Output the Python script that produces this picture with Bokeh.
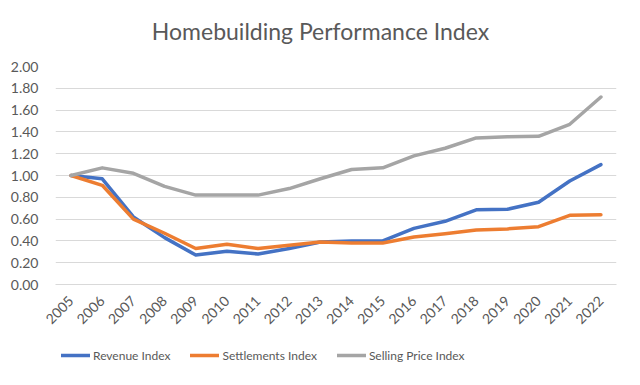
import math
from bokeh.plotting import figure
from bokeh.layouts import column
from bokeh.models import Legend, LegendItem, FixedTicker, Range1d, NumeralTickFormatter, ColumnDataSource
from bokeh.core.properties import value
from bokeh.embed import file_html
from bokeh.resources import INLINE

years = list(range(2005, 2023))
year_labels = [str(y) for y in years]
revenue = [1.00, 0.97, 0.62, 0.43, 0.27, 0.305, 0.28, 0.33, 0.39, 0.40, 0.40, 0.515, 0.58, 0.685, 0.69, 0.755, 0.95, 1.10]
settlements = [1.00, 0.91, 0.60, 0.47, 0.33, 0.37, 0.33, 0.36, 0.39, 0.38, 0.38, 0.435, 0.465, 0.50, 0.51, 0.53, 0.635, 0.64]
selling_price = [1.00, 1.07, 1.02, 0.90, 0.82, 0.82, 0.82, 0.88, 0.97, 1.055, 1.07, 1.18, 1.25, 1.345, 1.355, 1.36, 1.47, 1.72]
y_ticks = [0.0, 0.2, 0.4, 0.6, 0.8, 1.0, 1.2, 1.4, 1.6, 1.8, 2.0]

title_text = "Homebuilding Performance Index"
series_names = ["Revenue Index", "Settlements Index", "Selling Price Index"]
colors = ["#4472C4", "#ED7D31", "#A5A5A5"]

FONT = "Lato"
TXT = "#595959"
W = 624
LEFT, RIGHT = 55, 8

# title strip (frame is aligned with the chart's frame: 55..616 px)
tt = figure(width=W, height=46, output_backend="svg", toolbar_location=None,
            x_range=Range1d(LEFT, W - RIGHT), y_range=Range1d(0, 46),
            x_axis_type=None, y_axis_type=None, min_border=0)
tt.title.visible = False
tt.outline_line_color = None
tt.grid.grid_line_color = None
tt.text(x=[320], y=[16], text=[title_text], text_align="center", text_baseline="middle",
        text_font=value(FONT), text_font_size="23px", text_color=TXT)

# main chart
p = figure(width=W, height=290, output_backend="svg", toolbar_location=None,
           x_range=Range1d(2004.5, 2022.5), y_range=Range1d(0, 2.0),
           min_border_left=LEFT, min_border_right=RIGHT, min_border_top=20, min_border_bottom=52)
p.outline_line_color = None
p.background_fill_color = "white"
p.border_fill_color = "white"

p.xgrid.grid_line_color = None
p.ygrid.grid_line_color = "#d9d9d9"
p.ygrid.grid_line_width = 1

p.xaxis.ticker = FixedTicker(ticks=years)
p.xaxis.major_label_overrides = {y: l for y, l in zip(years, year_labels)}
p.xaxis.major_label_orientation = math.pi / 4
p.yaxis.ticker = FixedTicker(ticks=y_ticks)
p.yaxis.formatter = NumeralTickFormatter(format="0.00")

for ax in (p.xaxis, p.yaxis):
    ax.major_tick_line_color = None
    ax.minor_tick_line_color = None
    ax.major_label_text_font = FONT
    ax.major_label_text_font_size = "14px"
    ax.major_label_text_color = TXT
p.xaxis.axis_line_color = "#d9d9d9"
p.yaxis.axis_line_color = None
p.yaxis.major_label_standoff = 11
p.xaxis.major_label_standoff = 8

for name, vals, c in zip(series_names, [revenue, settlements, selling_price], colors):
    src = ColumnDataSource(dict(x=years, y=vals))
    p.line("x", "y", source=src, line_color=c, line_width=3.5,
           line_join="round", line_cap="round")

# legend strip below the chart (dummy renderers lie outside the visible range)
lg = figure(width=W, height=33, output_backend="svg", toolbar_location=None,
            x_range=Range1d(0, 1), y_range=Range1d(0, 1),
            x_axis_type=None, y_axis_type=None, min_border=0)
lg.title.visible = False
lg.outline_line_color = None
lg.grid.grid_line_color = None
items = []
for name, c in zip(series_names, colors):
    r = lg.line(x=[-5, -4], y=[-5, -5], line_color=c, line_width=3.5, line_cap="round")
    items.append(LegendItem(label=name, renderers=[r]))
legend = Legend(items=items, orientation="horizontal", location=(6, 4))
legend.border_line_color = None
legend.background_fill_alpha = 0
legend.label_text_font = FONT
legend.label_text_font_size = "12px"
legend.label_text_color = TXT
legend.glyph_width = 29
legend.spacing = 20
legend.label_standoff = 3
legend.margin = 0
legend.padding = 4
lg.add_layout(legend, "center")

layout = column(tt, p, lg, spacing=0)
open("out.html", "w").write(file_html(layout, INLINE))
